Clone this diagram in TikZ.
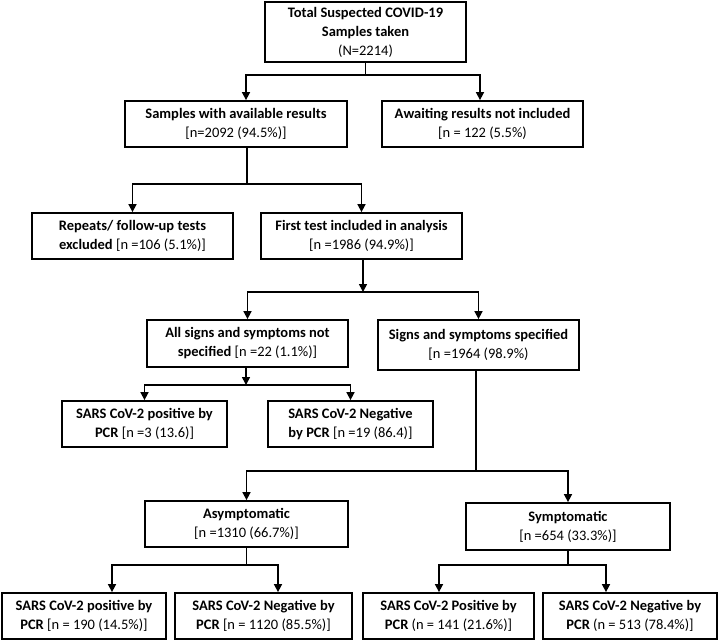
\documentclass[tikz,border=0pt]{standalone}
\usepackage{fontspec}
\setmainfont{Carlito}
\usetikzlibrary{arrows.meta}
\begin{document}
\begin{tikzpicture}[x=1pt,y=-1pt,
  mybox/.style={draw=black,line width=1.8pt,fill=white,align=center,inner sep=1pt,
     font=\fontsize{14.5}{19}\selectfont},
  conn/.style={line width=1.6pt,line join=miter},
  arr/.style={conn,-{Triangle[length=8pt,width=8pt]}}]
\useasboundingbox (0,0) rectangle (720,641);
\fill[white] (0,0) rectangle (720,641);
% nodes
\node[mybox,minimum width=201pt,minimum height=60pt] (b1) at (365.5,32)
  {\textbf{Total Suspected COVID-19}\\\textbf{Samples taken}\\(N=2214)};
\node[mybox,minimum width=222pt,minimum height=46pt] (b2) at (236,124)
  {\textbf{Samples with available results}\\{[n=2092 (94.5\%)]}};
\node[mybox,minimum width=201pt,minimum height=46pt] (b3) at (482.5,124)
  {\textbf{Awaiting results not included}\\{[n = 122 (5.5\%)}};
\node[mybox,minimum width=201pt,minimum height=46pt] (b4) at (132.5,236)
  {\textbf{Repeats/ follow-up tests}\\\textbf{excluded} [n =106 (5.1\%)]};
\node[mybox,minimum width=201pt,minimum height=46pt] (b5) at (361.5,236)
  {\textbf{First test included in analysis}\\{[n =1986 (94.9\%)]}};
\node[mybox,minimum width=201pt,minimum height=47pt] (b6) at (247.5,343.5)
  {\textbf{All signs and symptoms not}\\\textbf{specified} [n =22 (1.1\%)]};
\node[mybox,minimum width=201pt,minimum height=50pt] (b7) at (478.5,345)
  {\textbf{Signs and symptoms specified}\\{[n =1964 (98.9\%)}};
\node[mybox,minimum width=165pt,minimum height=46pt] (b8) at (144.5,424)
  {\textbf{SARS CoV-2 positive by}\\\textbf{PCR} [n =3 (13.6)]};
\node[mybox,minimum width=165pt,minimum height=46pt] (b9) at (350.5,424)
  {\textbf{SARS CoV-2 Negative}\\\textbf{by PCR} [n =19 (86.4)]};
\node[mybox,minimum width=203pt,minimum height=46pt] (b10) at (246.5,524)
  {\textbf{Asymptomatic}\\{[n =1310 (66.7\%)]}};
\node[mybox,minimum width=204pt,minimum height=47pt] (b11) at (568,526.5)
  {\textbf{Symptomatic}\\{[n =654 (33.3\%)]}};
\node[mybox,minimum width=164pt,minimum height=46pt] (b12) at (84,616)
  {\textbf{SARS CoV-2 positive by}\\\textbf{PCR} [n = 190 (14.5\%)]};
\node[mybox,minimum width=177pt,minimum height=46pt] (b13) at (263.5,616)
  {\textbf{SARS CoV-2 Negative by}\\\textbf{PCR} [n = 1120 (85.5\%)]};
\node[mybox,minimum width=171pt,minimum height=46pt] (b14) at (448.5,616)
  {\textbf{SARS CoV-2 Positive by}\\\textbf{PCR} (n = 141 (21.6\%)]};
\node[mybox,minimum width=174pt,minimum height=46pt] (b15) at (630,616)
  {\textbf{SARS CoV-2 Negative by}\\\textbf{PCR} (n = 513 (78.4\%)]};
% junction coordinates
\coordinate (t1l) at (246,75);
\coordinate (t1r) at (480,75);
\coordinate (t2) at (247,184);
\coordinate (t3) at (363,292);
\coordinate (t4) at (246,385);
\coordinate (t5) at (476,471);
\coordinate (t6l) at (112,565);
\coordinate (t6r) at (278,565);
\coordinate (t7l) at (439,565);
\coordinate (t7r) at (606,565);
% connectors
\draw[arr] (b1.south) |- (t1l) -- (t1l |- b2.north);
\draw[arr] (b1.south) |- (t1r) -- (t1r |- b3.north);
\draw[arr] (t2 |- b2.south) -- (t2) -| (b4.north);
\draw[arr] (t2) -| (b5.north);
\draw[arr] (t3 |- b5.south) -- (t3);
\draw[arr] (t3) -| (b6.north);
\draw[arr] (t3) -| (b7.north);
\draw[arr] (t4 |- b6.south) -- (t4);
\draw[arr] (t4) -| (b8.north);
\draw[arr] (t4) -| (b9.north);
\draw[arr] (t5 |- b7.south) -- (t5) -| (b10.north);
\draw[arr] (t5) -| (b11.north);
\draw[arr] (b10.south) |- (t6l) -- (t6l |- b12.north);
\draw[arr] (b10.south) |- (t6r) -- (t6r |- b13.north);
\draw[arr] (b11.south) |- (t7l) -- (t7l |- b14.north);
\draw[arr] (b11.south) |- (t7r) -- (t7r |- b15.north);
\end{tikzpicture}
\end{document}
